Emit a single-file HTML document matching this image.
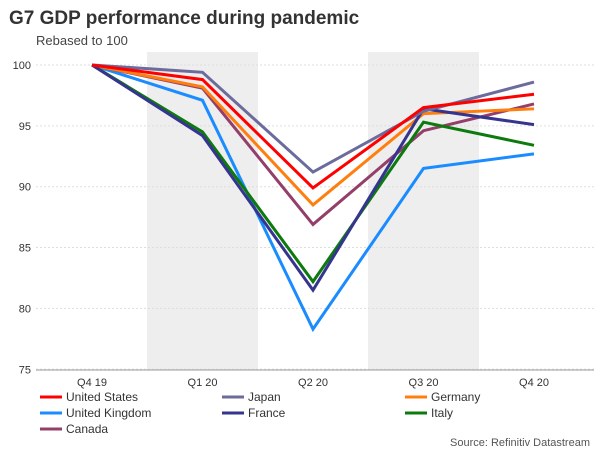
<!DOCTYPE html>
<html><head><meta charset="utf-8"><style>
body{margin:0;background:#fff;font-family:"Liberation Sans",sans-serif}
svg text{font-family:"Liberation Sans",sans-serif}
</style></head><body>
<svg id="c" width="600" height="450">
<text x="9" y="24" font-size="19" font-weight="bold" fill="#333">G7 GDP performance during pandemic</text>
<text x="36" y="45" font-size="13" fill="#444">Rebased to 100</text>
<text x="590" y="446" font-size="11" fill="#555" text-anchor="end">Source: Refinitiv Datastream</text>
<g id="plot"></g>
<g id="legend"></g>
</svg>
<script>
const categories=["Q4 19","Q1 20","Q2 20","Q3 20","Q4 20"];
const yTicks=[75,80,85,90,95,100];
const seriesNames=["United States","Japan","Germany","United Kingdom","France","Italy","Canada"];
const seriesColors=["#ff0000","#6b6b9c","#ff7f0e","#1a8cff","#35348f","#0d7a0d","#943e6a"];
const usValues=[100,98.8,89.9,96.5,97.6];
const japanValues=[100,99.4,91.2,96.2,98.6];
const germanyValues=[100,98.2,88.5,96.0,96.4];
const ukValues=[100,97.1,78.3,91.5,92.7];
const franceValues=[100,94.2,81.5,96.4,95.1];
const italyValues=[100,94.5,82.2,95.3,93.4];
const canadaValues=[100,98.1,86.9,94.6,96.8];
const allValues=[usValues,japanValues,germanyValues,ukValues,franceValues,italyValues,canadaValues];
const drawOrder=[3,6,2,5,4,1,0];
const NS="http://www.w3.org/2000/svg";
const x=i=>92+i*110.5;
const y=v=>65+(100-v)*12.17;
const plot=document.getElementById('plot');
function mk(t,a,p){const e=document.createElementNS(NS,t);for(const k in a)e.setAttribute(k,a[k]);(p||plot).appendChild(e);return e;}
[1,3].forEach(i=>{
 const r=mk('rect',{x:x(i)-55.5,y:52,width:111,height:318,fill:'#eeeeee'});
 
 
});
yTicks.forEach(v=>{
 const g=mk('line',{x1:36,x2:594,y1:y(v),y2:y(v),stroke:'#ddd','stroke-dasharray':'2,2','stroke-width':1});
 
 
 const t=mk('text',{x:31,y:y(v)+4,'font-size':11,fill:'#333','text-anchor':'end'});
 t.textContent=v;
 
 
});
const ax=mk('line',{x1:36,x2:594,y1:370,y2:370,stroke:'#999'});


categories.forEach((c,i)=>{
 const t=mk('text',{x:x(i),y:386,'font-size':11,fill:'#333','text-anchor':'middle'});
 t.textContent=c;
 
 
});
drawOrder.forEach(s=>{
 const pts=allValues[s].map((v,i)=>x(i)+','+y(v)).join(' ');
 const l=mk('polyline',{points:pts,fill:'none',stroke:seriesColors[s],'stroke-width':3,'stroke-linejoin':'miter'});
 
 
});
const lg=document.getElementById('legend');
seriesNames.forEach((n,i)=>{
 const col=i%3,row=Math.floor(i/3);
 const lx=[40,222,405][col],ly=401+row*16;
 const g=mk('g',{},lg);
 
 
 mk('line',{x1:lx,x2:lx+22,y1:ly-4,y2:ly-4,stroke:seriesColors[i],'stroke-width':3},g);
 const t=mk('text',{x:lx+26,y:ly,'font-size':12,fill:'#333'},g);
 t.textContent=n;
});
</script>
</body></html>
